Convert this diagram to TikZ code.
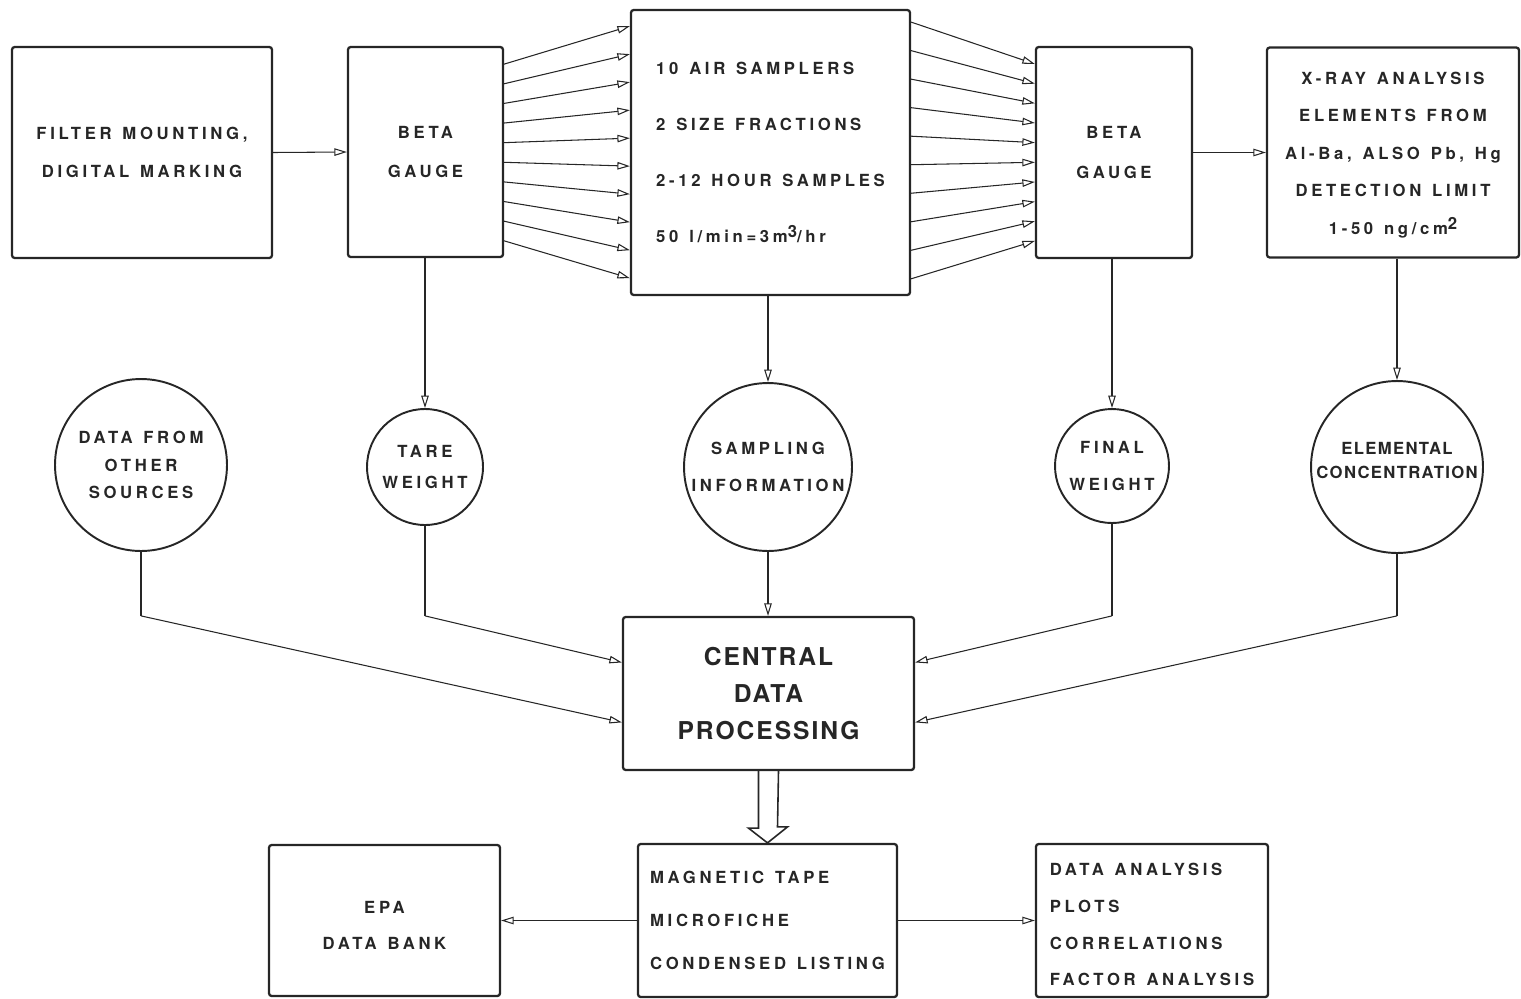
\documentclass[tikz,border=0pt]{standalone}
\usepackage{fontspec}
\setmainfont{TeX Gyre Heros}
\newfontfamily\lblfam[LetterSpace=22,WordSpace=1.3]{TeX Gyre Heros}
\newfontfamily\cdpfam[LetterSpace=8]{TeX Gyre Heros}
\newfontfamily\narrowfam[LetterSpace=8]{TeX Gyre Heros}
\usetikzlibrary{arrows.meta,calc}
\definecolor{ink}{gray}{0.15}
\newcommand{\fs}[2]{\fontsize{#1}{#2}\selectfont}
\newcommand{\up}[1]{\raisebox{0.55ex}{#1}}
\tikzset{
  box/.style={draw=ink, line width=1.3pt, rounded corners=1.5pt, inner sep=0pt, text=ink},
  circ/.style={draw=ink, circle, line width=1.1pt, inner sep=0pt, text=ink},
  arr/.style={draw=ink, line width=0.6pt, -{Triangle[open,length=2.5mm,width=1.5mm]}},
  conn/.style={draw=ink, line width=0.6pt},
}
\begin{document}
\begin{tikzpicture}[x=0.02cm,y=-0.02cm]
\useasboundingbox (0,0) rectangle (1521,998);
% top row
\node[box, minimum width=5.2cm, minimum height=4.22cm, align=center,
  font=\lblfam\bfseries\fs{9.5}{21.6}] (filt) at (142,152.5) {FILTER MOUNTING,\\ DIGITAL MARKING};
\node[box, minimum width=3.1cm, minimum height=4.2cm, align=center,
  font=\lblfam\bfseries\fs{9.5}{22}] (beta1) at (425.5,152) {BETA\\GAUGE};
\node[box, minimum width=5.58cm, minimum height=5.7cm, align=left,
  font=\lblfam\bfseries\fs{9.5}{32}] (samp) at (770.5,152.5)
  {10 AIR SAMPLERS\\2 SIZE FRACTIONS\\2-12 HOUR SAMPLES\\50 l/min=3m\up{3}/hr};
\node[box, minimum width=3.12cm, minimum height=4.22cm, align=center,
  font=\lblfam\bfseries\fs{9.5}{23}] (beta2) at (1114,152.5) {BETA\\GAUGE};
\node[box, minimum width=5.04cm, minimum height=4.2cm,
  label={[yshift=-0.05cm, align=center, text=ink, font=\lblfam\bfseries\fs{9.5}{21.3}]center:X-RAY ANALYSIS\\ELEMENTS FROM\\Al-Ba, ALSO Pb, Hg\\DETECTION LIMIT\\1-50 ng/cm\up{2}}] (xray) at (1393,152.5) {};
% circles
\node[circ, minimum size=3.44cm, align=center, font=\lblfam\bfseries\fs{9.5}{15.6}] (c1) at (141,465) {DATA FROM\\OTHER\\SOURCES};
\node[circ, minimum size=2.32cm, align=center, font=\lblfam\bfseries\fs{9.5}{17.6}] (c2) at (425,467) {TARE\\WEIGHT};
\node[circ, minimum size=3.36cm, align=center, font=\lblfam\bfseries\fs{9.5}{21}] (c3) at (768,467) {SAMPLING\\INFORMATION};
\node[circ, minimum size=2.28cm, align=center, font=\lblfam\bfseries\fs{9.5}{20.5}] (c4) at (1112,466) {FINAL\\WEIGHT};
\node[circ, minimum size=3.44cm,
  label={[yshift=0.13cm, align=center, text=ink, font=\narrowfam\bfseries\fs{9.5}{14.2}]center:ELEMENTAL\\CONCENTRATION}] (c5) at (1397,467) {};
% central
\node[box, minimum width=5.82cm, minimum height=3.06cm, align=center,
  font=\cdpfam\bfseries\fs{14}{21.3}] (cdp) at (768.5,693.5) {CENTRAL\\DATA\\PROCESSING};
% bottom
\node[box, minimum width=4.62cm, minimum height=3.02cm,
  label={[yshift=-0.09cm, align=center, text=ink, font=\lblfam\bfseries\fs{9.5}{20.5}]center:EPA\\DATA BANK}] (epa) at (384.5,920.5) {};
\node[box, minimum width=5.18cm, minimum height=3.06cm, align=left,
  font=\lblfam\bfseries\fs{9.5}{24.6}] (mag) at (767.5,920.5) {MAGNETIC TAPE\\MICROFICHE\\CONDENSED LISTING};
\node[box, minimum width=4.64cm, minimum height=3.06cm,
  label={[yshift=-0.08cm, align=left, text=ink, font=\lblfam\bfseries\fs{9.5}{21}]center:DATA ANALYSIS\\PLOTS\\CORRELATIONS\\FACTOR ANALYSIS}] (da) at (1152,920.5) {};
% connectors top
\draw[arr] (filt.east) -- (beta1.west);
\draw[arr] (beta2.east) -- (xray.west);
\foreach \i in {0,...,9}{
  \draw[arr] ($(beta1.north east)!{0.086+\i*0.0925}!(beta1.south east)$) -- ($(samp.north west)!{0.06+\i*0.0975}!(samp.south west)$);
  \draw[arr] ($(samp.north east)!{0.046+\i*0.0993}!(samp.south east)$) -- ($(beta2.north west)!{0.085+\i*0.0922}!(beta2.south west)$);
}
\draw[arr] (beta1.south -| c2.north) -- (c2.north);
\draw[arr] (samp.south -| c3.north) -- (c3.north);
\draw[arr] (beta2.south -| c4.north) -- (c4.north);
\draw[arr] (xray.south -| c5.north) -- (c5.north);
% to central
\draw[conn] (c1.south) -- (c1.south |- cdp.north) coordinate (k1);
\draw[arr] (k1) -- ($(cdp.north west)!0.686!(cdp.south west)$);
\draw[conn] (c2.south) -- (c2.south |- cdp.north) coordinate (k2);
\draw[arr] (k2) -- ($(cdp.north west)!0.30!(cdp.south west)$);
\draw[arr] (c3.south) -- (c3.south |- cdp.north);
\draw[conn] (c4.south) -- (c4.south |- cdp.north) coordinate (k4);
\draw[arr] (k4) -- ($(cdp.north east)!0.30!(cdp.south east)$);
\draw[conn] (c5.south) -- (c5.south |- cdp.north) coordinate (k5);
\draw[arr] (k5) -- ($(cdp.north east)!0.686!(cdp.south east)$);
% hollow arrow
\draw[draw=ink, line width=0.9pt, line join=miter] ([xshift=-0.2cm]cdp.south) -- ++(0,57) -- ++(-10,0) -- (mag.north) -- ++(20,-16) -- ++(-10,0) -- ([xshift=0.2cm]cdp.south);
% bottom
\draw[arr] (mag.west) -- (mag.west -| epa.east);
\draw[arr] (mag.east) -- (mag.east -| da.west);
\end{tikzpicture}
\end{document}
